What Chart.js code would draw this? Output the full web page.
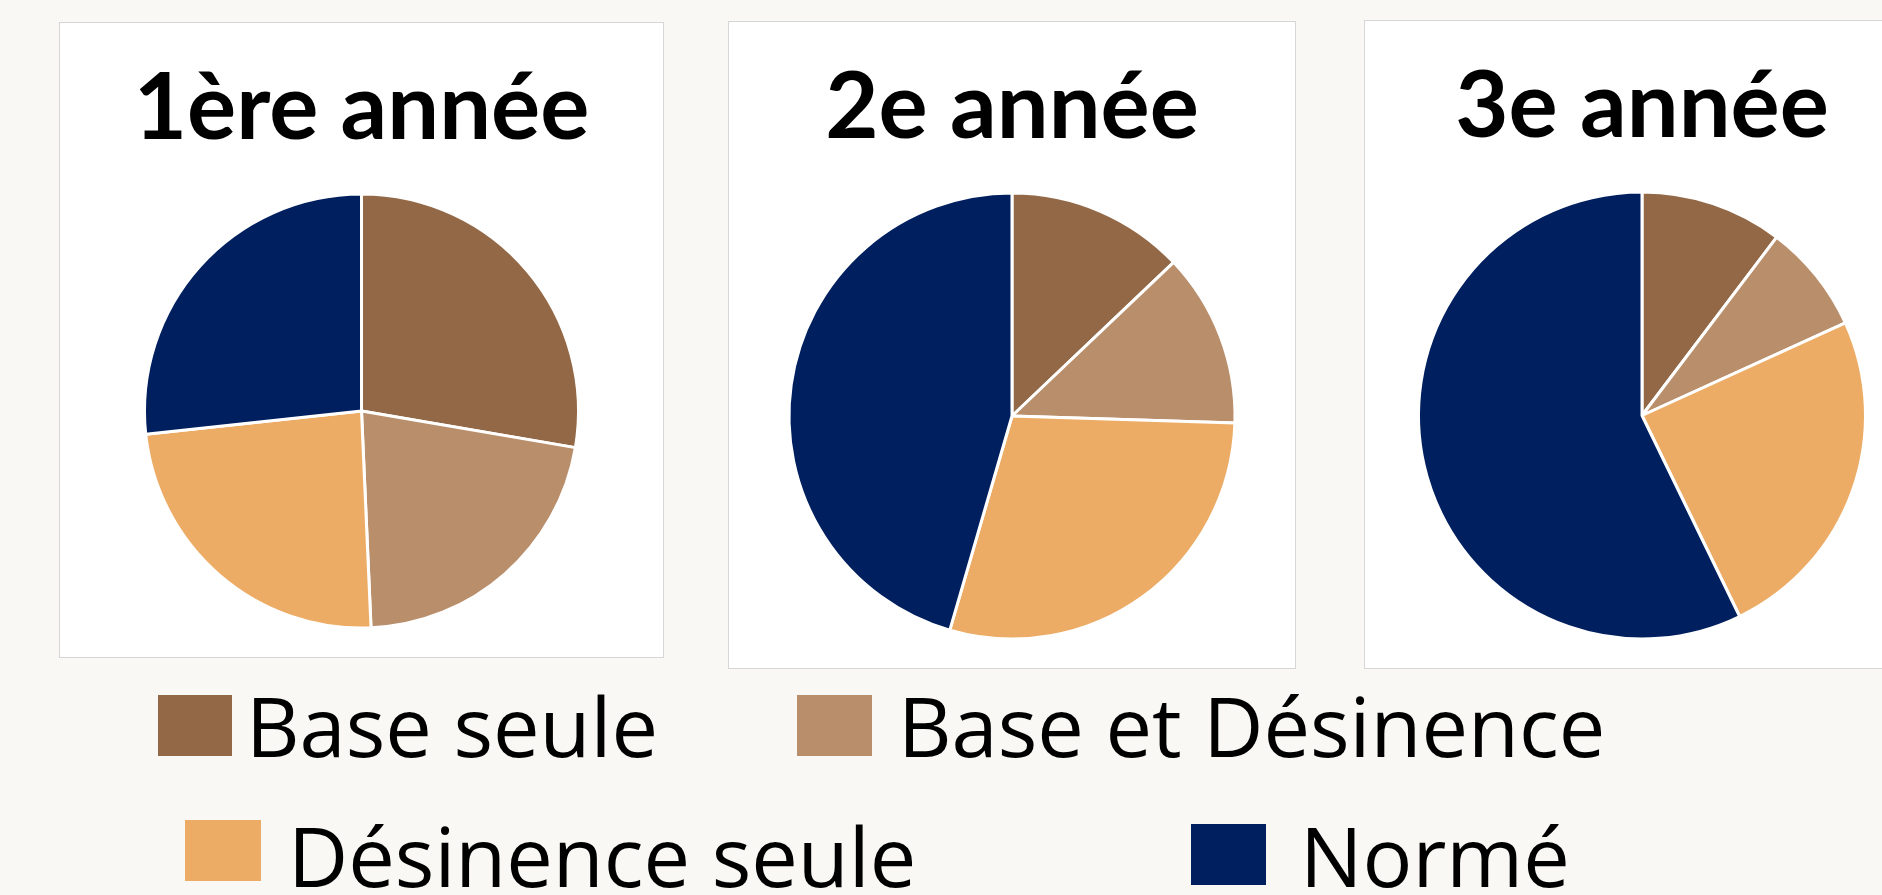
<!DOCTYPE html>
<html lang="fr">
<head>
<meta charset="utf-8">
<title>Répartition par année</title>
<script src="https://cdn.jsdelivr.net/npm/chart.js@4/dist/chart.umd.min.js"></script>
<style>
    html, body {
        margin: 0;
        padding: 0;
        width: 1882px;
        height: 895px;
        overflow: hidden;
        background: #f9f8f4;
    }
    .panel {
        position: absolute;
        background: #ffffff;
        border: 1px solid #d6d6d6;
    }
    .panel canvas {
        display: block;
    }
    .swatch {
        position: absolute;
    }
    .item {
        position: absolute;
        font-family: "Open Sans", sans-serif;
        font-size: 83px;
        line-height: 83px;
        color: #000;
        white-space: nowrap;
    }
</style>
</head>
<body>
<div id="panels"></div>
<div id="legende"></div>

<script>
// données (pourcentages)
const categories = ["Base seule", "Base et Désinence", "Désinence seule", "Normé"];
const annees = ["1ère année", "2e année", "3e année"];
const annee1 = [27.7, 21.6, 24.0, 26.7];
const annee2 = [12.9, 12.6, 29.0, 45.5];
const annee3 = [10.3, 7.9, 24.6, 57.2];
const couleurs = ["#936846", "#b98e6b", "#edac66", "#001f5f"];

const series = [annee1, annee2, annee3];

/* mise en page des trois cadres */
const cadres = [
    { left: 59,   top: 22, w: 603, h: 634, cy: 388,   r: 217 },
    { left: 728,  top: 21, w: 566, h: 646, cy: 394,   r: 223 },
    { left: 1364, top: 20, w: 554, h: 647, cy: 394.5, r: 223.5 }
];

const TITRE_TAILLE = 92;
const TITRE_HAUT = 31;

const conteneur = document.getElementById("panels");

cadres.forEach((c, i) => {
    const div = document.createElement("div");
    div.className = "panel";
    div.style.left = c.left + "px";
    div.style.top = c.top + "px";
    const canvas = document.createElement("canvas");
    canvas.width = c.w;
    canvas.height = c.h;
    canvas.style.width = c.w + "px";
    canvas.style.height = c.h + "px";
    div.appendChild(canvas);
    conteneur.appendChild(div);

    // hauteur de la boîte du titre pour centrer le camembert sur cy
    const hauteurTitre = 2 * c.cy - c.h;
    const basTitre = hauteurTitre - TITRE_TAILLE * 1.2 - TITRE_HAUT;

    new Chart(canvas, {
        type: "pie",
        data: {
            labels: categories,
            datasets: [{
                data: series[i],
                backgroundColor: couleurs,
                borderColor: "#ffffff",
                borderWidth: 3
            }]
        },
        options: {
            responsive: false,
            animation: false,
            devicePixelRatio: 1,
            radius: c.r,
            layout: { padding: 0 },
            plugins: {
                legend: { display: false },
                tooltip: { enabled: false },
                title: {
                    display: true,
                    text: annees[i],
                    color: "#000000",
                    font: { family: "Lato", weight: "bold", size: TITRE_TAILLE, lineHeight: 1.2 },
                    padding: { top: TITRE_HAUT, bottom: basTitre }
                }
            }
        }
    });
});

/* =============================
     LEGENDE COMMUNE
============================= */
const places = [
    { x: 158,  y: 695, w: 74, h: 61, tx: 246,  base: 757 },
    { x: 797,  y: 695, w: 75, h: 61, tx: 898,  base: 757 },
    { x: 185,  y: 820, w: 76, h: 61, tx: 288,  base: 887 },
    { x: 1191, y: 824, w: 75, h: 61, tx: 1300, base: 887 }
];

const legende = document.getElementById("legende");
categories.forEach((nom, i) => {
    const p = places[i];
    const carre = document.createElement("div");
    carre.className = "swatch";
    carre.style.left = p.x + "px";
    carre.style.top = p.y + "px";
    carre.style.width = p.w + "px";
    carre.style.height = p.h + "px";
    carre.style.background = couleurs[i];
    legende.appendChild(carre);

    const txt = document.createElement("div");
    txt.className = "item";
    txt.textContent = nom;
    txt.style.left = p.tx + "px";
    txt.style.top = (p.base - 74) + "px";
    legende.appendChild(txt);
});
</script>
</body>
</html>
